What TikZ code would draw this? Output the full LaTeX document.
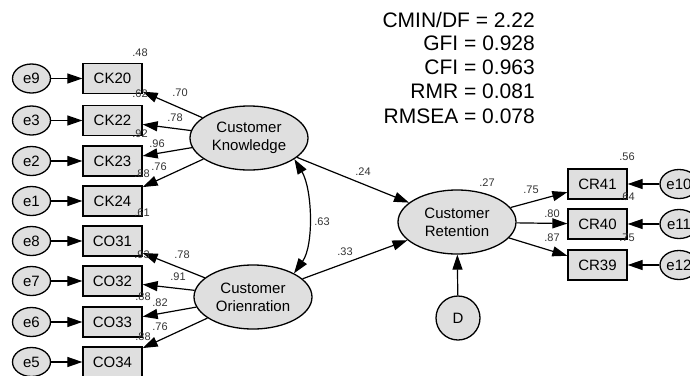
\documentclass[tikz,border=0pt]{standalone}
\usepackage{fontspec}
\setmainfont{Liberation Sans}
\usetikzlibrary{arrows.meta,shapes.geometric}

\begin{document}
\begin{tikzpicture}[x=1pt,y=-1pt,
  latent/.style={ellipse,draw,line width=1.3pt,fill=gray!25,minimum width=118pt,minimum height=64pt,inner sep=0pt,align=center,font=\fontsize{15}{18}\selectfont},
  obs/.style={rectangle,draw,line width=1.3pt,fill=gray!25,minimum width=59pt,minimum height=30pt,inner sep=0pt,font=\fontsize{15}{18}\selectfont},
  err/.style={ellipse,draw,line width=1.3pt,fill=gray!25,minimum width=38pt,minimum height=29pt,inner sep=0pt,font=\fontsize{15}{18}\selectfont},
  arr/.style={line width=1.2pt,-{Triangle[length=15pt,width=10pt]}},
  biarr/.style={line width=1.2pt,{Triangle[length=15pt,width=10pt]}-{Triangle[length=15pt,width=10pt]}},
  est/.style={font=\fontsize{11}{12}\selectfont,text=black!80,inner sep=0pt},
  fitline/.style={font=\fontsize{21}{24}\selectfont,anchor=base east,inner sep=0pt}
]
\useasboundingbox (0,0) rectangle (690,375);

% fit statistics
\node[fitline] (f1) at (535,27)  {CMIN/DF = 2.22};
\node[fitline] (f2) at (535,50)  {GFI = 0.928};
\node[fitline] (f3) at (535,74)  {CFI = 0.963};
\node[fitline] (f4) at (535,98)  {RMR = 0.081};
\node[fitline] (f5) at (535,123) {RMSEA = 0.078};

% latent variables
\node[latent] (CK) at (249,138) {Customer\\Knowledge};
\node[latent] (CO) at (253,297) {Customer\\Orienration};
\node[latent] (CR) at (457,222) {Customer\\Retention};
\node[circle,draw,line width=1.3pt,fill=gray!25,minimum size=44pt,inner sep=0pt,font=\fontsize{15}{18}\selectfont] (D) at (458,318) {D};

% indicators of the two exogenous factors
\foreach \nm/\er/\y in {CK20/e9/78.5, CK22/e3/120.5, CK23/e2/161, CK24/e1/201,
                        CO31/e8/241, CO32/e7/281, CO33/e6/322, CO34/e5/362}{
  \node[obs] (\nm) at (112.5,\y) {\nm};
  \node[err] (\er) at (31.5,\y) {\er};
  \draw[arr] (\er) -- (\nm);
}

% indicators of retention
\foreach \nm/\er/\y in {CR41/e10/184, CR40/e11/224, CR39/e12/265}{
  \node[obs] (\nm) at (597.5,\y) {\nm};
  \node[err] (\er) at (679,\y) {\er};
  \draw[arr] (\er) -- (\nm);
  \draw[arr] (CR) -- (\nm);
}

% loadings
\foreach \nm in {CK20,CK22,CK23,CK24}{\draw[arr] (CK) -- (\nm);}
\foreach \nm in {CO31,CO32,CO33,CO34}{\draw[arr] (CO) -- (\nm);}

% structural paths
\draw[arr] (CK) -- (CR);
\draw[arr] (CO) -- (CR);
\draw[arr] (D) -- (CR);
\draw[biarr] (CK.-25) .. controls +(18,30) and +(20,-28) .. (CO.30);

% estimates
\node[est] (l1)  at (140,53)  {.48};
\node[est] (l2)  at (180,93)  {.70};
\node[est] (l3)  at (140,94)  {.62};
\node[est] (l4)  at (175,118) {.78};
\node[est] (l5)  at (140,134) {.92};
\node[est] (l6)  at (157,144) {.96};
\node[est] (l7)  at (159,167) {.76};
\node[est] (l8)  at (142,174) {.88};
\node[est] (l9)  at (142,213) {.61};
\node[est] (l10) at (182,255) {.78};
\node[est] (l11) at (142,255) {.93};
\node[est] (l12) at (178,277) {.91};
\node[est] (l13) at (143,297) {.88};
\node[est] (l14) at (160,303) {.82};
\node[est] (l15) at (160,327) {.76};
\node[est] (l16) at (143,337) {.88};
\node[est] (l17) at (363,172) {.24};
\node[est] (l18) at (322,222) {.63};
\node[est] (l19) at (345,252) {.33};
\node[est] (l20) at (487,183) {.27};
\node[est] (l21) at (531,190) {.75};
\node[est] (l22) at (552,214) {.80};
\node[est] (l23) at (552,238) {.87};
\node[est] (l24) at (627,157) {.56};
\node[est] (l25) at (627,197) {.64};
\node[est] (l26) at (627,238) {.75};
\end{tikzpicture}
\end{document}
